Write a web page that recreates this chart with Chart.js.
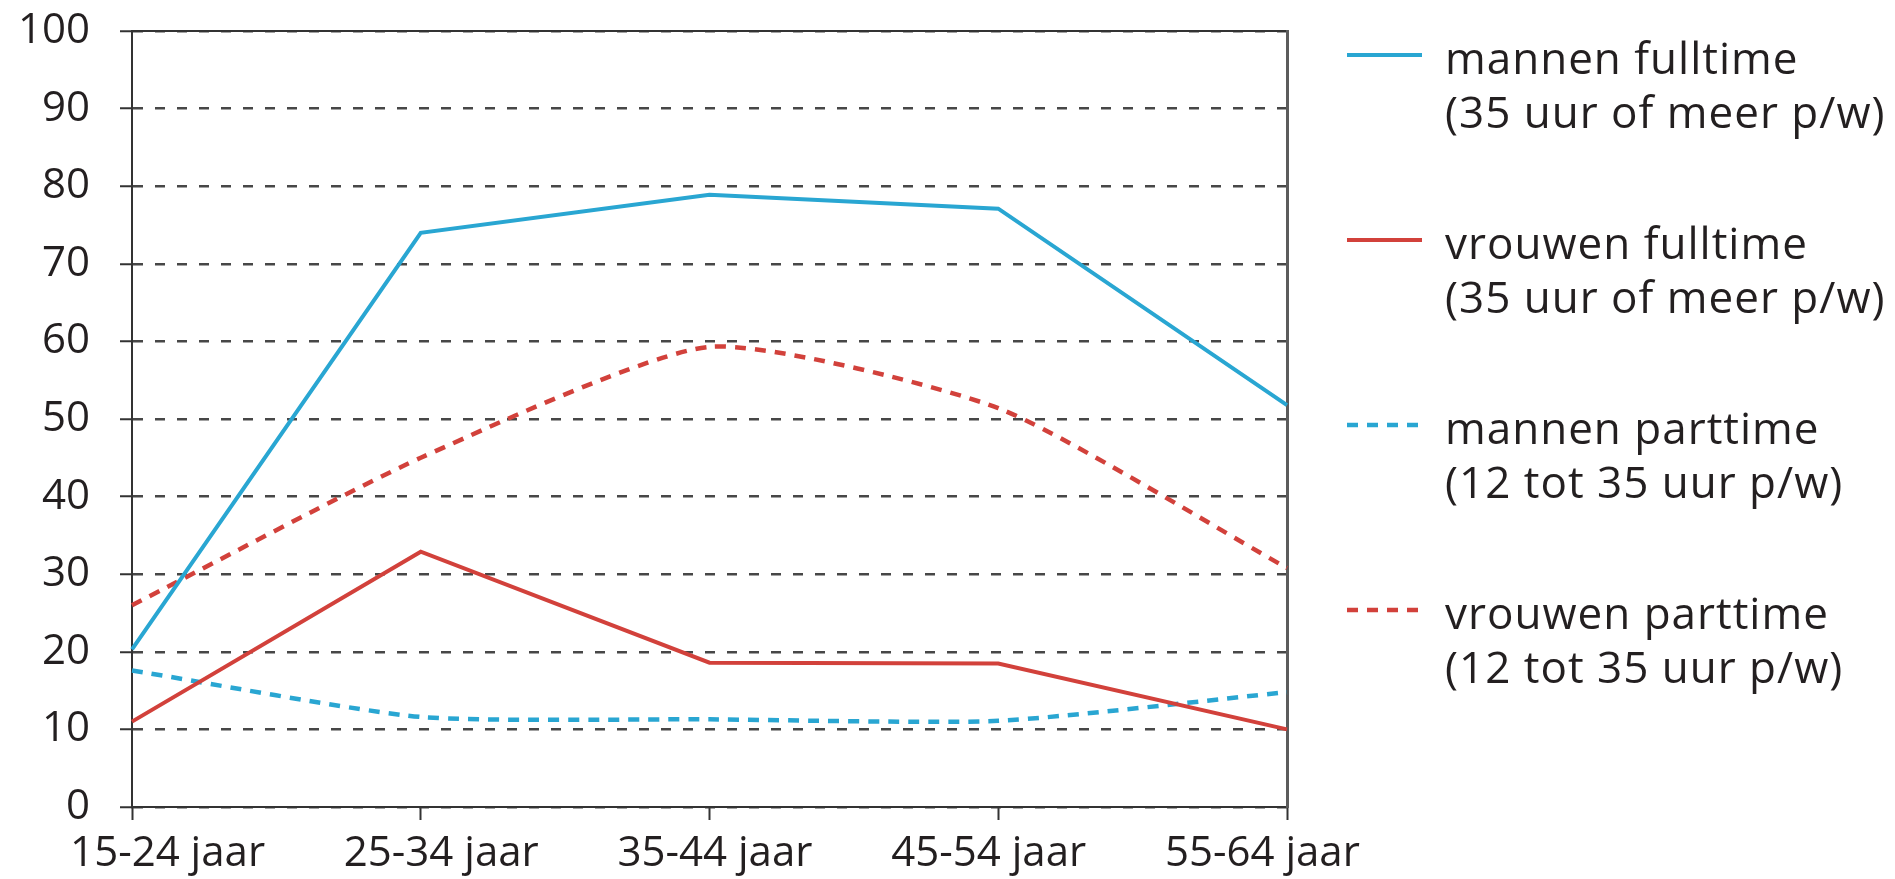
<!DOCTYPE html>
<html>
<head>
<meta charset="utf-8">
<title>Werkenden naar leeftijd</title>
<script src="https://cdn.jsdelivr.net/npm/chart.js@4.4.1/dist/chart.umd.min.js"></script>
<style>
    html, body { margin: 0; padding: 0; background: #ffffff; }
    #wrap { position: relative; width: 1895px; height: 879px; }
    #grafiek { display: block; }
    #legenda {
        position: absolute;
        left: 1347px;
        top: 30px;
        margin: 0;
        padding: 0;
        list-style: none;
        font-family: "Open Sans", sans-serif;
        font-size: 44px;
        line-height: 54px;
        letter-spacing: 1px;
        color: #231f20;
    }
    #legenda li { display: flex; align-items: flex-start; margin: 0 0 77px 0; white-space: nowrap; }
    #legenda svg { flex: none; margin-right: 23px; }
</style>
</head>
<body>
<div id="wrap">
    <canvas id="grafiek" width="1895" height="879"></canvas>
    <ul id="legenda"></ul>
</div>
<script>
// categorieen op de x-as
const categorieen = ['15-24 jaar', '25-34 jaar', '35-44 jaar', '45-54 jaar', '55-64 jaar'];

// waarden (procenten)
const mannenFulltime = [20.3, 74, 78.9, 77.1, 51.8];
const vrouwenFulltime = [11, 32.9, 18.6, 18.5, 10];
const mannenParttime = [17.6, 11.6, 11.3, 11.1, 14.8];
const vrouwenParttime = [26, 45, 59.3, 51.4, 30.8];

// legenda teksten
const reeksNamen = ['mannen fulltime', 'vrouwen fulltime', 'mannen parttime', 'vrouwen parttime'];
const reeksNoten = ['(35 uur of meer p/w)', '(35 uur of meer p/w)', '(12 tot 35 uur p/w)', '(12 tot 35 uur p/w)'];

// y-as labels
const yWaarden = [0, 10, 20, 30, 40, 50, 60, 70, 80, 90, 100];

(function () {
    const blauw = '#29a6d2';
    const rood = '#d2413b';
    const tekstKleur = '#231f20';
    const asKleur = '#333333';
    const rasterKleur = '#474747';
    const streep = [11, 9];

    Chart.defaults.font.family = '"Open Sans", sans-serif';
    Chart.defaults.color = tekstKleur;

    const reeksen = [
        { data: mannenFulltime, kleur: blauw, dash: [] },
        { data: vrouwenFulltime, kleur: rood, dash: [] },
        { data: mannenParttime, kleur: blauw, dash: streep },
        { data: vrouwenParttime, kleur: rood, dash: streep }
    ];

    // legenda als html lijst, opgebouwd uit de labels van de grafiek
    const htmlLegenda = {
        id: 'htmlLegenda',
        afterUpdate(chart) {
            const lijst = document.querySelector('#legenda');
            while (lijst.firstChild) {
                lijst.removeChild(lijst.firstChild);
            }
            const items = chart.options.plugins.legend.labels.generateLabels(chart);
            const ns = 'http://www.w3.org/2000/svg';
            items.forEach(item => {
                const li = document.createElement('LI');

                const svg = document.createElementNS(ns, 'svg');
                svg.setAttribute('width', '75');
                svg.setAttribute('height', '44');
                const lijn = document.createElementNS(ns, 'line');
                lijn.setAttribute('x1', '0');
                lijn.setAttribute('x2', '75');
                lijn.setAttribute('y1', '25');
                lijn.setAttribute('y2', '25');
                lijn.setAttribute('stroke', item.strokeStyle);
                lijn.setAttribute('stroke-width', item.lineWidth);
                if (item.lineDash.length) {
                    lijn.setAttribute('stroke-dasharray', item.lineDash.join(' '));
                }
                svg.appendChild(lijn);

                const tekst = document.createElement('DIV');
                item.text.forEach(regel => {
                    const r = document.createElement('DIV');
                    r.textContent = regel;
                    tekst.appendChild(r);
                });

                li.appendChild(svg);
                li.appendChild(tekst);
                lijst.appendChild(li);
            });
        }
    };

    const ctx = document.querySelector('#grafiek').getContext('2d');

    new Chart(ctx, {
        type: 'line',
        data: {
            labels: categorieen,
            datasets: reeksen.map((reeks, i) => ({
                label: reeksNamen[i],
                data: reeks.data,
                borderColor: reeks.kleur,
                backgroundColor: reeks.kleur,
                borderWidth: reeks.dash.length ? 4.5 : 4,
                borderDash: reeks.dash,
                tension: reeks.dash.length ? 0.2 : 0,
                pointRadius: 0,
                fill: false
            }))
        },
        plugins: [htmlLegenda],
        options: {
            responsive: false,
            animation: false,
            devicePixelRatio: 1,
            layout: {
                padding: { top: 8, right: 608, bottom: 0, left: 18 }
            },
            scales: {
                x: {
                    type: 'category',
                    position: 'bottom',
                    weight: 0,
                    offset: false,
                    grid: {
                        drawOnChartArea: false,
                        drawTicks: true,
                        tickLength: 13,
                        tickWidth: 2,
                        tickColor: asKleur
                    },
                    border: { display: true, color: asKleur, width: 2 },
                    ticks: { display: false },
                    afterFit: (as) => { as.height = 13; }
                },
                xTekst: {
                    type: 'linear',
                    position: 'bottom',
                    weight: 1,
                    min: -0.13,
                    max: 4.09,
                    grid: { display: false },
                    border: { display: false },
                    afterBuildTicks: (as) => {
                        as.ticks = categorieen.map((c, i) => ({ value: i }));
                    },
                    afterFit: (as) => {
                        as.height = 59;
                        as.paddingLeft = 0;
                        as.paddingRight = 0;
                    },
                    ticks: {
                        padding: 1,
                        autoSkip: false,
                        maxRotation: 0,
                        color: tekstKleur,
                        font: { size: 42 },
                        callback: (v) => categorieen[v]
                    }
                },
                xBoven: {
                    type: 'linear',
                    position: 'top',
                    grid: { display: false },
                    ticks: { display: false },
                    border: { display: true, color: asKleur, width: 2 },
                    afterFit: (as) => { as.height = 23; }
                },
                y: {
                    type: 'linear',
                    position: 'left',
                    min: 0,
                    max: 100,
                    afterBuildTicks: (as) => {
                        as.ticks = yWaarden.map(v => ({ value: v }));
                    },
                    afterFit: (as) => {
                        as.width = 114;
                        as.paddingTop = 0;
                        as.paddingBottom = 0;
                    },
                    grid: {
                        color: rasterKleur,
                        lineWidth: 2.5,
                        drawTicks: true,
                        tickLength: 12,
                        tickWidth: 2,
                        tickColor: asKleur
                    },
                    border: { display: true, color: asKleur, width: 2, dash: [10, 12] },
                    ticks: {
                        padding: 30,
                        color: tekstKleur,
                        font: { size: 42 }
                    }
                },
                yRechts: {
                    type: 'linear',
                    position: 'right',
                    grid: { display: false },
                    ticks: { display: false },
                    border: { display: true, color: '#5c5c5c', width: 3 },
                    afterFit: (as) => { as.width = 0; }
                }
            },
            plugins: {
                tooltip: { enabled: false },
                legend: {
                    display: false,
                    labels: {
                        generateLabels: (chart) => chart.data.datasets.map((ds, i) => ({
                            text: [ds.label, reeksNoten[i]],
                            strokeStyle: ds.borderColor,
                            lineWidth: ds.borderWidth,
                            lineDash: ds.borderDash,
                            datasetIndex: i
                        }))
                    }
                }
            }
        }
    });
})();
</script>
</body>
</html>
